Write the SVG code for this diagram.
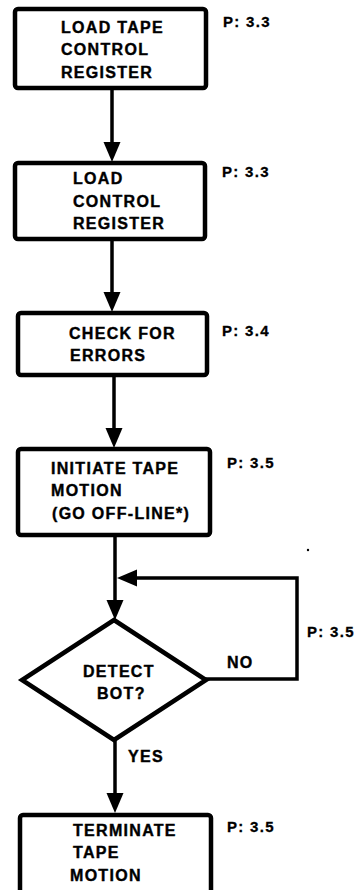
<svg xmlns="http://www.w3.org/2000/svg" width="358" height="890" viewBox="0 0 358 890">
<style>
.box{fill:#fff;stroke:#000;stroke-width:4.5}
.lbl{font-family:"Liberation Sans",Arial,sans-serif;font-weight:bold;font-size:16px;letter-spacing:1.3px;fill:#000;stroke:#000;stroke-width:0.4}
.ref{font-family:"Liberation Sans",Arial,sans-serif;font-weight:bold;font-size:15px;letter-spacing:1.3px;fill:#000;stroke:#000;stroke-width:0.3}
.con{fill:none;stroke:#000;stroke-width:3.5}
</style>
<defs>
<marker id="ah" markerUnits="userSpaceOnUse" markerWidth="22" markerHeight="18" refX="2" refY="8.5" orient="auto">
<path d="M0,0 L20,8.5 L0,17 z" fill="#000"/>
</marker>
</defs>
<rect width="358" height="890" fill="#fff"/>
<g id="connectors">
<line class="con" x1="112" y1="90" x2="112" y2="144" marker-end="url(#ah)"/>
<line class="con" x1="112" y1="241" x2="112" y2="294" marker-end="url(#ah)"/>
<line class="con" x1="114" y1="377" x2="114" y2="430" marker-end="url(#ah)"/>
<line class="con" x1="115" y1="537" x2="115" y2="602" marker-end="url(#ah)"/>
<path class="con" d="M205,679 H297 V578 H135" marker-end="url(#ah)"/>
<line class="con" x1="115" y1="740" x2="115" y2="795" marker-end="url(#ah)"/>
<text class="lbl" x="227" y="668">NO</text>
<text class="lbl" x="128" y="762">YES</text>
<text class="ref" x="307" y="637">P: 3.5</text>
</g>
<g id="n1">
<rect class="box" x="15" y="9" width="191" height="79" rx="3"/>
<text class="lbl" x="61" y="33">LOAD TAPE</text>
<text class="lbl" x="61" y="55">CONTROL</text>
<text class="lbl" x="61" y="78">REGISTER</text>
<text class="ref" x="223" y="27">P: 3.3</text>
</g>
<g id="n2">
<rect class="box" x="15" y="163" width="190" height="76" rx="3"/>
<text class="lbl" x="73" y="184">LOAD</text>
<text class="lbl" x="73" y="207">CONTROL</text>
<text class="lbl" x="73" y="229">REGISTER</text>
<text class="ref" x="222" y="177">P: 3.3</text>
</g>
<g id="n3">
<rect class="box" x="18" y="313" width="189" height="62" rx="3"/>
<text class="lbl" x="69" y="339">CHECK FOR</text>
<text class="lbl" x="70" y="361">ERRORS</text>
<text class="ref" x="222" y="336">P: 3.4</text>
</g>
<g id="n4">
<rect class="box" x="18" y="449" width="192" height="86" rx="3"/>
<text class="lbl" x="51" y="474">INITIATE TAPE</text>
<text class="lbl" x="51" y="496">MOTION</text>
<text class="lbl" x="52" y="519">(GO OFF-LINE*)</text>
<text class="ref" x="227" y="468">P: 3.5</text>
</g>
<g id="n5">
<polygon class="box" points="114,620 206,680 114,740 22,680" stroke-linejoin="miter"/>
<text class="lbl" x="83" y="677">DETECT</text>
<text class="lbl" x="97" y="699">BOT?</text>
</g>
<g id="n6">
<rect class="box" x="20" y="815" width="191" height="90" rx="3"/>
<text class="lbl" x="73" y="836">TERMINATE</text>
<text class="lbl" x="73" y="858">TAPE</text>
<text class="lbl" x="70" y="881">MOTION</text>
<text class="ref" x="227" y="832">P: 3.5</text>
</g>
<circle cx="308" cy="550" r="1.2" fill="#000"/>
</svg>
